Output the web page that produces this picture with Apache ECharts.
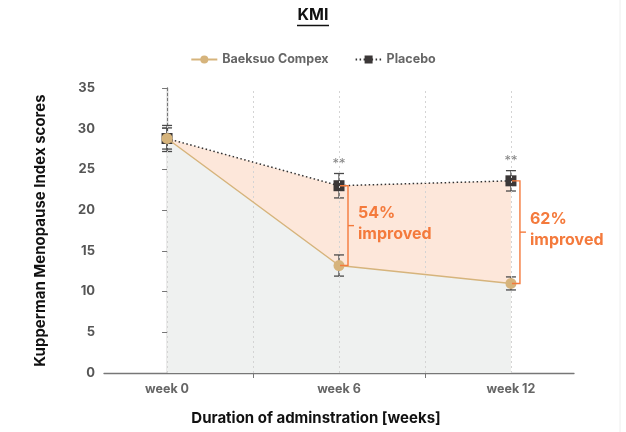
<!DOCTYPE html>
<html><head><meta charset="utf-8">
<script src="https://cdn.jsdelivr.net/npm/echarts@6/dist/echarts.min.js"></script>
<style>html,body{margin:0;padding:0;background:#fff}#c{width:626px;height:432px}</style>
</head><body><div id="c"></div>
<script>
const weeks = [0, 6, 12];
const weekLabels = ['week 0', 'week 6', 'week 12'];
const baeksuo = [28.8, 13.2, 11.0];
const baeksuoErr = [1.3, 1.3, 0.8];
const placebo = [28.8, 23.0, 23.6];
const placeboErr = [1.6, 1.5, 1.25];
const improvedLabels = ['', '54%', '62%'];
const signif = ['', '**', '**'];
const gridWeeks = [0, 3, 6, 9, 12];
const tickWeeks = [3, 9];

const FONT = 'Inter';
const ORANGE = '#f47a3c';
const chart = echarts.init(document.getElementById('c'));

function errData(vals, errs) { return weeks.map((w, i) => [w, vals[i] + errs[i], vals[i] - errs[i]]); }

function errRender(params, api) {
  const x = api.value(0);
  const hi = api.coord([x, api.value(1)]);
  const lo = api.coord([x, api.value(2)]);
  const w = 5;
  const st = { stroke: '#4a4a4a', lineWidth: 1.3 };
  return { type: 'group', children: [
    { type: 'line', shape: { x1: hi[0], y1: hi[1], x2: lo[0], y2: lo[1] }, style: st },
    { type: 'line', shape: { x1: hi[0] - w, y1: hi[1], x2: hi[0] + w, y2: hi[1] }, style: st },
    { type: 'line', shape: { x1: lo[0] - w, y1: lo[1], x2: lo[0] + w, y2: lo[1] }, style: st }
  ]};
}

const bracketData = weeks.map((w, i) => [w, placebo[i], baeksuo[i], i]).filter(d => improvedLabels[d[3]]);

function bracketRender(params, api) {
  const x = api.value(0);
  const idx = api.value(3);
  const top = api.coord([x, api.value(1)]);
  const bot = api.coord([x, api.value(2)]);
  const bx = top[0] + 9;
  const my = (top[1] + bot[1]) / 2;
  const st = { stroke: ORANGE, lineWidth: 1.4, fill: null };
  return { type: 'group', children: [
    { type: 'polyline', shape: { points: [[top[0] + 1, top[1]], [bx, top[1]], [bx, bot[1]], [bot[0] + 1, bot[1]]] }, style: st },
    { type: 'line', shape: { x1: bx, y1: my, x2: bx + 6, y2: my }, style: st },
    { type: 'text', style: { text: improvedLabels[idx] + '\nimproved', x: bx + 10, y: my - 2, fill: ORANGE,
      font: 'bold 16px ' + FONT, lineHeight: 21, verticalAlign: 'middle', align: 'left' } }
  ]};
}

function starRender(params, api) {
  const x = api.value(0);
  const p = api.coord([x, api.value(1)]);
  return { type: 'text', style: { text: signif[api.value(2)], x: p[0], y: p[1] - 3, fill: '#888',
    font: '13px ' + FONT, align: 'center', verticalAlign: 'bottom' } };
}

const option = {
  animation: false,
  textStyle: { fontFamily: FONT },
  graphic: [
    { type: 'text', left: 'center', top: 7, style: { text: 'KMI', font: 'bold 16px ' + FONT, fill: '#111' } },
    { type: 'line', shape: { x1: 297, y1: 25.5, x2: 329, y2: 25.5 }, style: { stroke: '#111', lineWidth: 1.5 } },
    { type: 'line', shape: { x1: 620, y1: 0, x2: 620, y2: 432 }, style: { stroke: '#eeeeee', lineWidth: 1 } }
  ],
  legend: {
    top: 48, left: 'center', itemGap: 26, itemWidth: 26, itemHeight: 10,
    data: ['Baeksuo Compex', 'Placebo'],
    textStyle: { fontFamily: FONT, fontWeight: 'bold', fontSize: 12.5, color: '#666' }
  },
  grid: { left: 104, right: 52, top: 88, bottom: 59 },
  xAxis: {
    type: 'value', min: -2.2, max: 14.2,
    name: 'Duration of adminstration [weeks]', nameLocation: 'middle', nameGap: 38,
    nameTextStyle: { fontFamily: FONT, fontWeight: 'bold', fontSize: 15, color: '#111', padding: [0, 46, 0, 0] },
    axisLine: { show: true, lineStyle: { color: '#777', width: 1.3 } },
    axisTick: { show: true, customValues: tickWeeks, length: 5, lineStyle: { color: '#777' } },
    axisLabel: { customValues: weeks, formatter: v => weekLabels[weeks.indexOf(v)] || '', color: '#666', fontWeight: 'bold', fontSize: 12.5, margin: 10 },
    splitLine: { show: false }
  },
  yAxis: {
    type: 'value', min: 0, max: 35, interval: 5,
    name: 'Kupperman Menopause Index scores', nameLocation: 'middle', nameGap: 56,
    nameTextStyle: { fontFamily: FONT, fontWeight: 'bold', fontSize: 15, color: '#111' },
    axisLine: { show: true, lineStyle: { color: '#777', width: 1.3 } },
    axisTick: { show: true, length: 5, lineStyle: { color: '#777' } },
    axisLabel: { color: '#555', fontWeight: 'bold', fontSize: 13, margin: 9 },
    splitLine: { show: false }
  },
  series: [
    { name: 'placeboArea', type: 'line', data: weeks.map((w, i) => [w, placebo[i]]), symbol: 'none',
      lineStyle: { width: 0 }, areaStyle: { color: '#fde7da', opacity: 1 }, z: 1, silent: true,
      markLine: { silent: true, symbol: 'none', label: { show: false },
        lineStyle: { color: '#d4d4d4', type: [2, 3], width: 1 },
        data: gridWeeks.map(w => ({ xAxis: w })) } },
    { name: 'baeksuoArea', type: 'line', data: weeks.map((w, i) => [w, baeksuo[i]]), symbol: 'none',
      lineStyle: { width: 0 }, areaStyle: { color: '#eff1f0', opacity: 1 }, z: 2, silent: true },
    { name: 'Placebo', type: 'line', data: weeks.map((w, i) => [w, placebo[i]]), symbol: 'rect', symbolSize: 11,
      itemStyle: { color: '#3b3737' }, lineStyle: { color: '#333', type: [1.5, 2.5], width: 1.5 }, z: 4 },
    { name: 'Baeksuo Compex', type: 'line', data: weeks.map((w, i) => [w, baeksuo[i]]), symbol: 'circle', symbolSize: 11,
      itemStyle: { color: '#d6b47c' }, lineStyle: { color: '#d6b47c', width: 1.5 }, z: 5 },
    { name: 'errP', type: 'custom', renderItem: errRender, data: errData(placebo, placeboErr), z: 3, silent: true },
    { name: 'errB', type: 'custom', renderItem: errRender, data: errData(baeksuo, baeksuoErr), z: 3, silent: true },
    { name: 'stars', type: 'custom', renderItem: starRender,
      data: weeks.map((w, i) => [w, placebo[i] + placeboErr[i], i]).filter(d => signif[d[2]]), z: 6, silent: true },
    { name: 'brackets', type: 'custom', renderItem: bracketRender, data: bracketData, z: 6, silent: true }
  ]
};
chart.setOption(option);
</script></body></html>
